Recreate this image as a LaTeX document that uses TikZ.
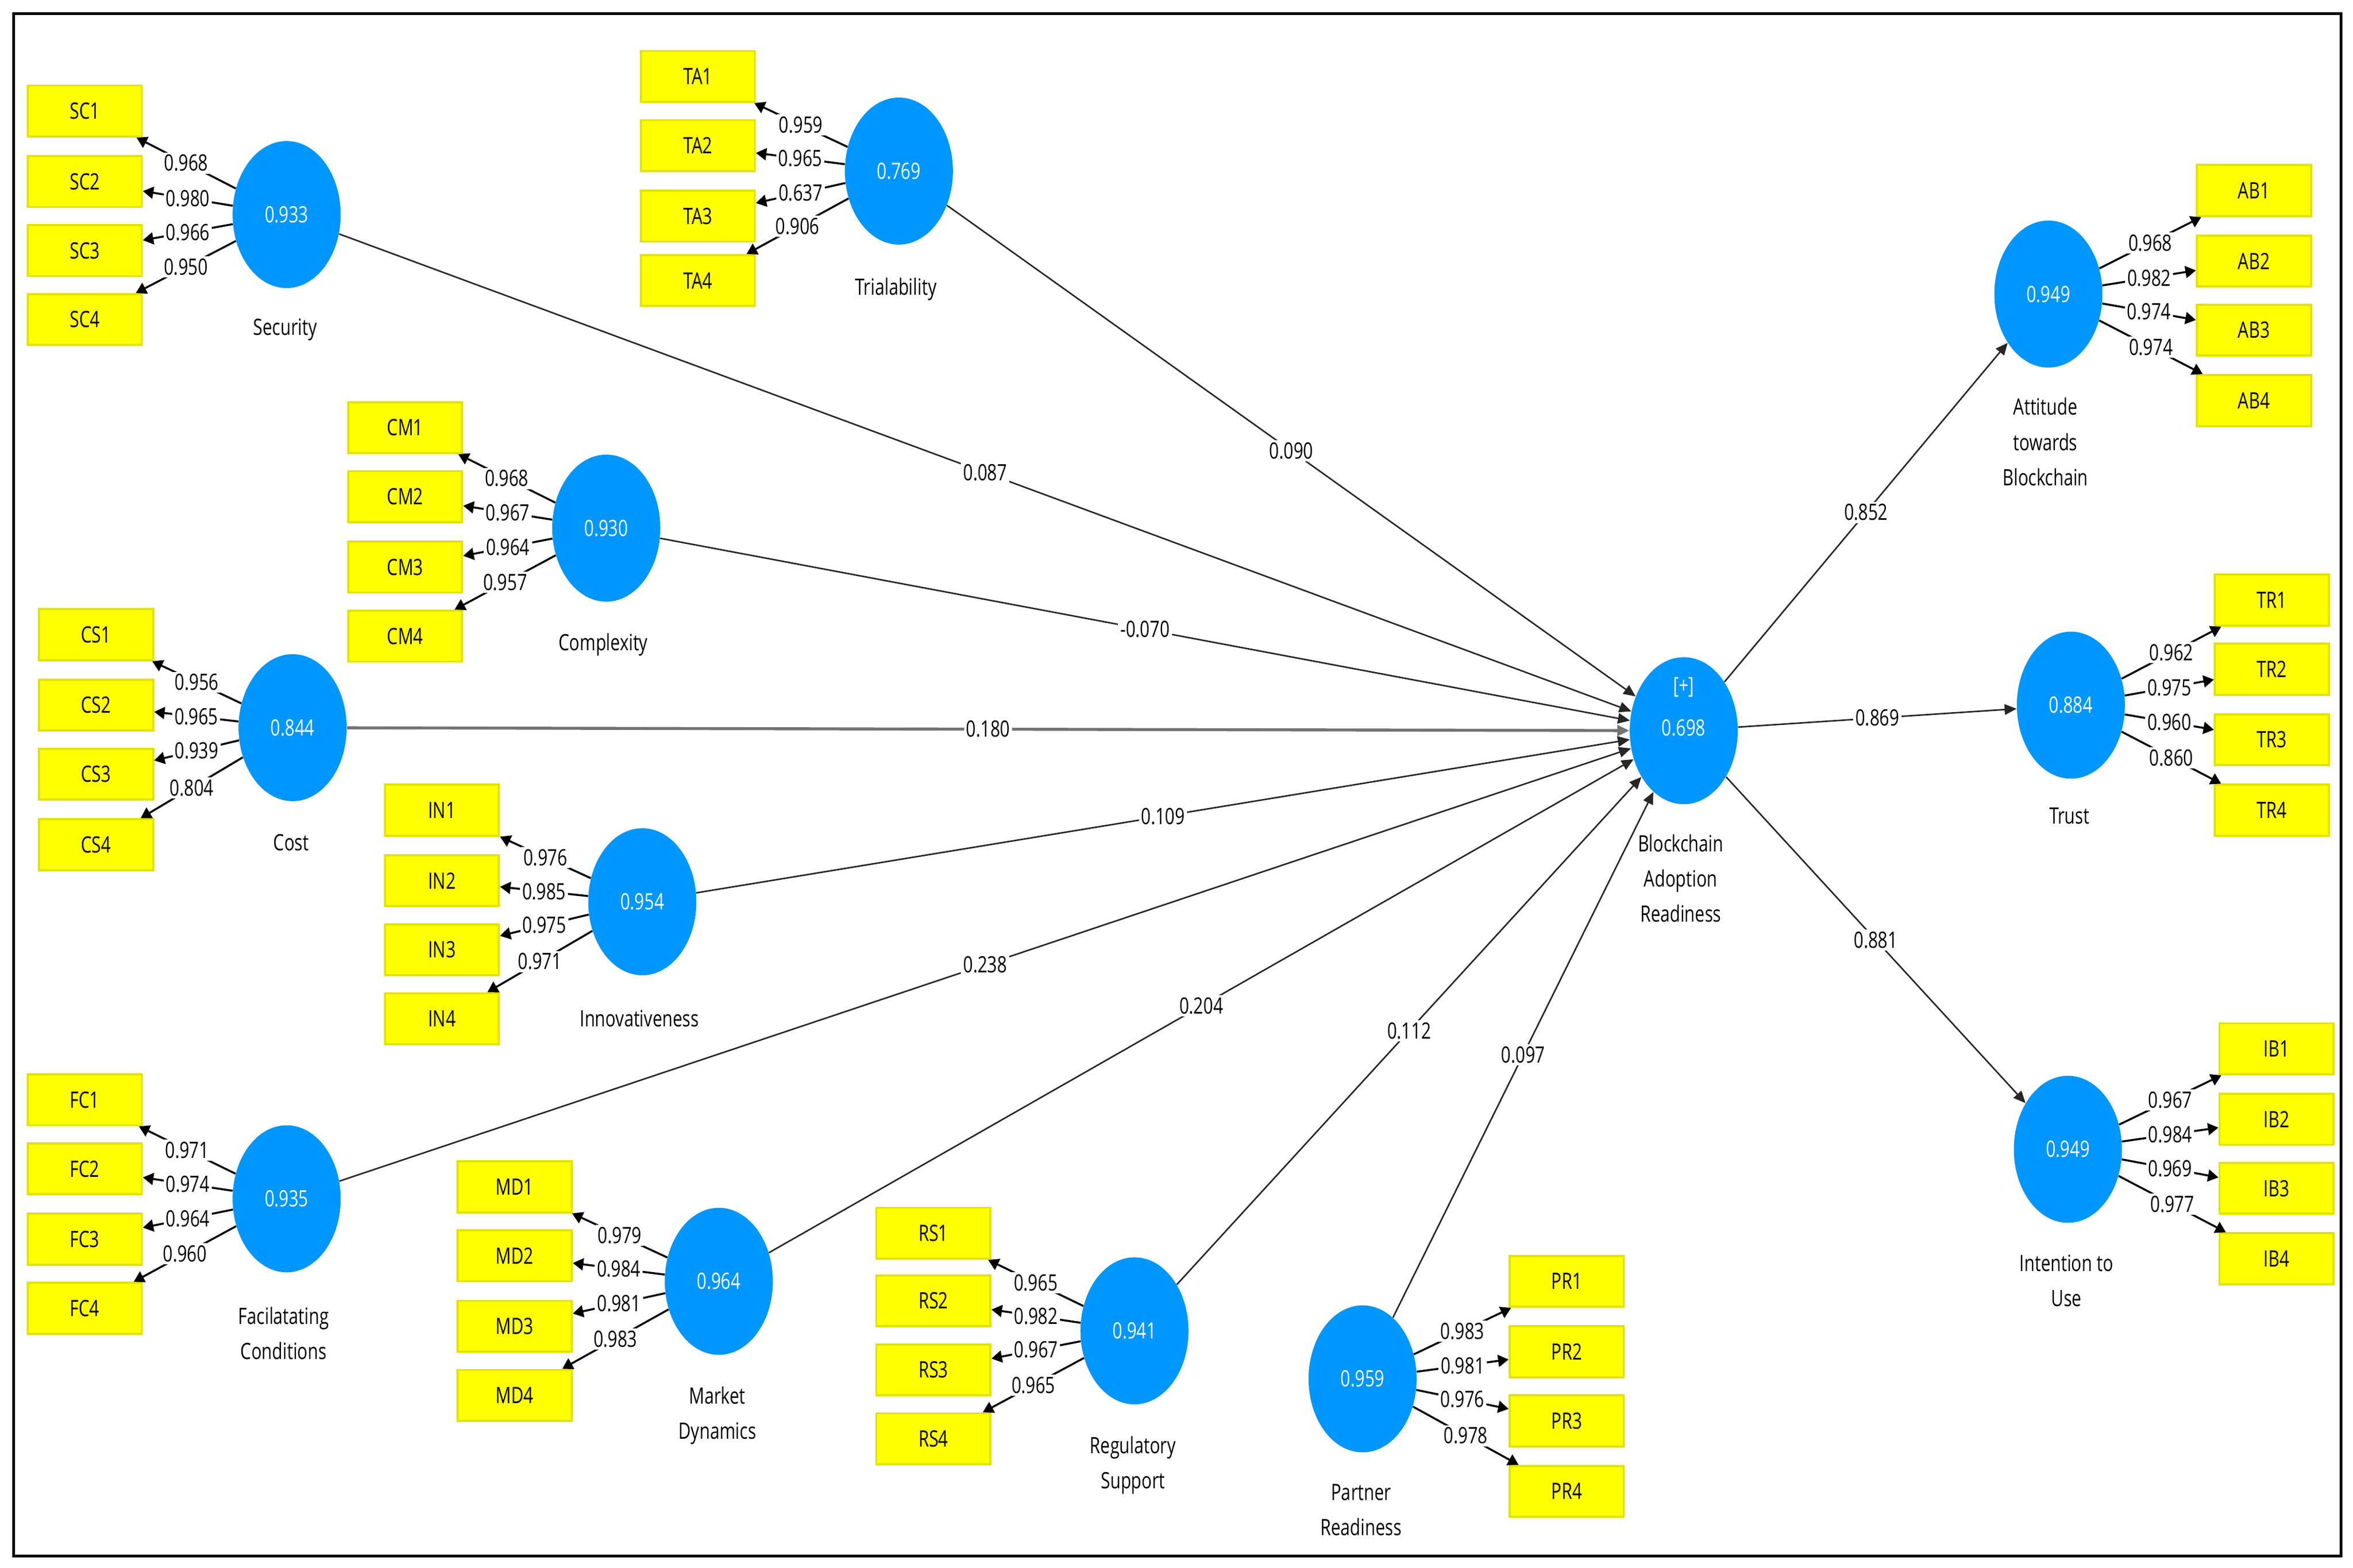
\documentclass[tikz,border=0pt]{standalone}
\usepackage{fontspec}
\setmainfont{Open Sans}[FakeStretch=0.76]
\usetikzlibrary{shapes.geometric,arrows.meta}
\definecolor{lvblue}{RGB}{0,150,255}
\definecolor{indyel}{RGB}{255,255,0}
\definecolor{indedge}{RGB}{226,226,0}
\newcommand\fsz{\fontsize{15}{23.5}\selectfont}
\tikzset{
  lv/.style={ellipse, fill=lvblue, minimum width=72pt, minimum height=98pt, inner sep=0pt, text=white, font=\fsz},
  mv/.style={rectangle, fill=indyel, draw=indedge, line width=1.4pt, minimum width=76pt, minimum height=34pt, inner sep=0pt, font=\fsz},
  lvname/.style={anchor=north, align=center, font=\fsz, inner sep=0pt},
  loadarrow/.style={-{Triangle[length=7pt,width=8pt]}, line width=1.3pt, black},
  patharrow/.style={-{Triangle[length=8pt,width=7pt]}, line width=1pt, black!85},
  coef/.style={fill=white, inner sep=1.5pt, font=\fsz, text=black, pos=0.5},
}
\begin{document}
\begin{tikzpicture}[x=1pt,y=-1pt]
\useasboundingbox (0,0) rectangle (1568,1045);
\draw[line width=2pt] (9,9) rectangle (1560,1037);

% latent variables
\node[lv] (sec) at (191,143) {0.933};
\node[lv] (tri) at (599,114) {0.769};
\node[lv] (cmp) at (404,352) {0.930};
\node[lv] (cst) at (195,485) {0.844};
\node[lv] (inn) at (428,601) {0.954};
\node[lv] (fac) at (191,799) {0.935};
\node[lv] (mkt) at (479,854) {0.964};
\node[lv] (reg) at (756,887) {0.941};
\node[lv] (ptn) at (908,919) {0.959};
\node[lv] (bar) at (1122,487) {};
\node[text=white, font=\fsz, inner sep=0pt] (barplus) at (1122,458) {[+]};
\node[text=white, font=\fsz, inner sep=0pt] (barval) at (1122,485) {0.698};
\node[lv] (att) at (1365,196) {0.949};
\node[lv] (tru) at (1380,470) {0.884};
\node[lv] (int) at (1378,766) {0.949};

% names
\node[lvname] (secn) at (190,212) {Security};
\node[lvname] (trin) at (597,185) {Trialability};
\node[lvname] (cmpn) at (402,422) {Complexity};
\node[lvname] (cstn) at (194,556) {Cost};
\node[lvname] (innn) at (426,673) {Innovativeness};
\node[lvname] (facn) at (189,871) {Facilatating\\Conditions};
\node[lvname] (mktn) at (478,924) {Market\\Dynamics};
\node[lvname] (regn) at (755,957) {Regulatory\\Support};
\node[lvname] (ptnn) at (907,989) {Partner\\Readiness};
\node[lvname] (barn) at (1120,556) {Blockchain\\Adoption\\Readiness};
\node[lvname] (attn) at (1363,265) {Attitude\\towards\\Blockchain};
\node[lvname] (trun) at (1379,538) {Trust};
\node[lvname] (intn) at (1377,836) {Intention to\\Use};

% indicators and loadings
\foreach \y/\v [count=\i] in {74/0.968,121/0.980,167/0.966,213/0.950}{
  \node[mv] (SC\i) at (56.5,\y) {SC\i};
  \draw[loadarrow] (sec) -- (SC\i) node[coef] {\v};}
\foreach \y/\v [count=\i] in {51/0.959,97/0.965,144/0.637,187/0.906}{
  \node[mv] (TA\i) at (465,\y) {TA\i};
  \draw[loadarrow] (tri) -- (TA\i) node[coef] {\v};}
\foreach \y/\v [count=\i] in {285/0.968,331/0.967,378/0.964,424/0.957}{
  \node[mv] (CM\i) at (270,\y) {CM\i};
  \draw[loadarrow] (cmp) -- (CM\i) node[coef] {\v};}
\foreach \y/\v [count=\i] in {423/0.956,470/0.965,516/0.939,563/0.804}{
  \node[mv] (CS\i) at (64,\y) {CS\i};
  \draw[loadarrow] (cst) -- (CS\i) node[coef] {\v};}
\foreach \y/\v [count=\i] in {540/0.976,587/0.985,633/0.975,679/0.971}{
  \node[mv] (IN\i) at (294.5,\y) {IN\i};
  \draw[loadarrow] (inn) -- (IN\i) node[coef] {\v};}
\foreach \y/\v [count=\i] in {733/0.971,779/0.974,826/0.964,872/0.960}{
  \node[mv] (FC\i) at (56.5,\y) {FC\i};
  \draw[loadarrow] (fac) -- (FC\i) node[coef] {\v};}
\foreach \y/\v [count=\i] in {791/0.979,837/0.984,884/0.981,930/0.983}{
  \node[mv] (MD\i) at (343,\y) {MD\i};
  \draw[loadarrow] (mkt) -- (MD\i) node[coef] {\v};}
\foreach \y/\v [count=\i] in {822/0.965,867/0.982,913/0.967,959/0.965}{
  \node[mv] (RS\i) at (622,\y) {RS\i};
  \draw[loadarrow] (reg) -- (RS\i) node[coef] {\v};}
\foreach \y/\v [count=\i] in {854/0.983,901/0.981,947/0.976,994/0.978}{
  \node[mv] (PR\i) at (1044,\y) {PR\i};
  \draw[loadarrow] (ptn) -- (PR\i) node[coef] {\v};}
\foreach \y/\v [count=\i] in {127/0.968,174/0.982,220/0.974,267/0.974}{
  \node[mv] (AB\i) at (1502,\y) {AB\i};
  \draw[loadarrow] (att) -- (AB\i) node[coef] {\v};}
\foreach \y/\v [count=\i] in {400/0.962,446/0.975,493/0.960,540/0.860}{
  \node[mv] (TR\i) at (1514,\y) {TR\i};
  \draw[loadarrow] (tru) -- (TR\i) node[coef] {\v};}
\foreach \y/\v [count=\i] in {699/0.967,746/0.984,792/0.969,839/0.977}{
  \node[mv] (IB\i) at (1517,\y) {IB\i};
  \draw[loadarrow] (int) -- (IB\i) node[coef] {\v};}

% structural paths
\draw[patharrow] (sec) -- (bar) node[coef] {0.087};
\draw[patharrow] (tri) -- (bar) node[coef] {0.090};
\draw[patharrow] (cmp) -- (bar) node[coef] {-0.070};
\draw[patharrow, line width=2pt, black!55] (cst) -- (bar) node[coef] {0.180};
\draw[patharrow] (inn) -- (bar) node[coef] {0.109};
\draw[patharrow] (fac) -- (bar) node[coef] {0.238};
\draw[patharrow] (mkt) -- (bar) node[coef] {0.204};
\draw[patharrow] (reg) -- (bar) node[coef] {0.112};
\draw[patharrow] (ptn) -- (bar) node[coef] {0.097};
\draw[patharrow] (bar) -- (att) node[coef] {0.852};
\draw[patharrow] (bar) -- (tru) node[coef] {0.869};
\draw[patharrow] (bar) -- (int) node[coef] {0.881};
\end{tikzpicture}
\end{document}
